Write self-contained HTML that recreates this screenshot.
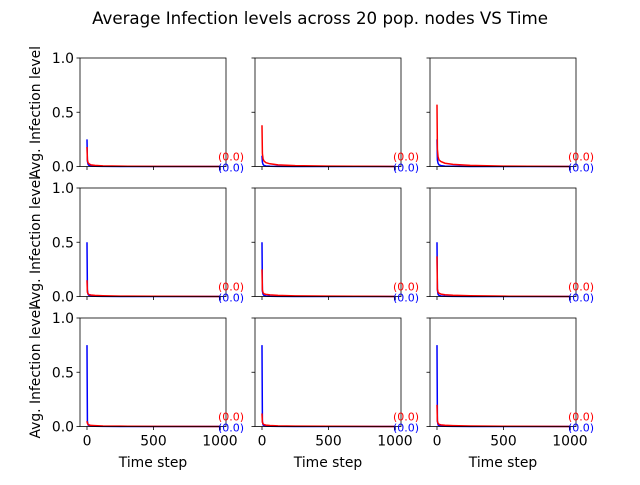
<!DOCTYPE html>
<html><head><meta charset="utf-8"><style>
body{margin:0;background:#fff}
svg{font-family:"DejaVu Sans","Liberation Sans",sans-serif}
</style></head><body>
<svg id="c" width="640" height="480" xmlns="http://www.w3.org/2000/svg">
<text x="320" y="24" font-size="16.67" text-anchor="middle">Average Infection levels across 20 pop. nodes VS Time</text>
</svg>
<script>
const timeSteps=[0,3,8,15,30,60,120,250,500,1000];
const blueSeries=[
 [0.25,0.05,0.02,0.01,0.005,0.002,0.001,0,0,0],
 [0.10,0.04,0.02,0.01,0.005,0.002,0.001,0,0,0],
 [0.25,0.06,0.03,0.015,0.008,0.004,0.002,0,0,0],
 [0.50,0.06,0.02,0.01,0.005,0.002,0.001,0,0,0],
 [0.50,0.05,0.02,0.01,0.005,0.002,0.001,0,0,0],
 [0.50,0.06,0.02,0.01,0.005,0.002,0.001,0,0,0],
 [0.75,0.05,0.015,0.008,0.004,0.002,0.001,0,0,0],
 [0.75,0.05,0.015,0.008,0.004,0.002,0.001,0,0,0],
 [0.75,0.05,0.015,0.008,0.004,0.002,0.001,0,0,0]];
const redSeries=[
 [0.18,0.06,0.035,0.025,0.015,0.01,0.006,0.003,0.001,0],
 [0.38,0.12,0.07,0.05,0.035,0.025,0.015,0.008,0.003,0],
 [0.57,0.16,0.09,0.06,0.045,0.03,0.02,0.01,0.004,0],
 [0.15,0.04,0.025,0.018,0.014,0.01,0.007,0.004,0.002,0],
 [0.25,0.06,0.035,0.025,0.02,0.015,0.01,0.006,0.003,0],
 [0.37,0.07,0.04,0.03,0.022,0.016,0.011,0.007,0.003,0],
 [0.05,0.03,0.02,0.015,0.01,0.008,0.005,0.003,0.001,0],
 [0.12,0.04,0.025,0.018,0.013,0.009,0.006,0.004,0.002,0],
 [0.20,0.05,0.03,0.02,0.015,0.011,0.008,0.005,0.002,0]];
const yTicks=[0,0.5,1.0];
const yTickLabels=["0.0","0.5","1.0"];
const xTicks=[0,500,1000];
const xTickLabels=["0","500","1000"];
const NS="http://www.w3.org/2000/svg";
const svg=document.getElementById('c');
const colL=[80,255,430], rowT=[58,188,318], W=146, H=108.5;
function mk(tag,attrs,parent){const e=document.createElementNS(NS,tag);for(const k in attrs)e.setAttribute(k,attrs[k]);(parent||svg).appendChild(e);return e;}
for(let r=0;r<3;r++)for(let c=0;c<3;c++){
 const i=r*3+c,L=colL[c],T=rowT[r];
 const g=mk('g',{});
 
 
 const sx=v=>L+(v+52.6)/1098*W, sy=v=>T+H-v*H;
 const line=(ser,col)=>mk('polyline',{points:timeSteps.map((t,k)=>sx(t)+','+sy(ser[k])).join(' '),fill:'none',stroke:col,'stroke-width':1.5},g);
 const bl=line(blueSeries[i],'#0000ff');
 
 
 const rl=line(redSeries[i],'#ff0000');
 
 
 mk('line',{x1:sx(1000),x2:sx(1000),y1:sy(0),y2:sy(0)+4,stroke:'#0000ff','stroke-width':1.5},g);
 const fr=mk('rect',{x:L,y:T,width:W,height:H,fill:'none',stroke:'#000','stroke-width':0.8},g);
 
 
 const t1=mk('text',{x:sx(1000)-2,y:sy(0)-6,'font-size':11,fill:'#ff0000'},g);t1.textContent='(0.0)';
 
 
 const t2=mk('text',{x:sx(1000)-2,y:sy(0)+5,'font-size':11,fill:'#0000ff'},g);t2.textContent='(0.0)';
 
 
 yTicks.forEach((v,k)=>{mk('line',{x1:L-3.5,x2:L,y1:sy(v),y2:sy(v),stroke:'#000','stroke-width':0.8},g);
  if(c===0){const t=mk('text',{x:L-6,y:sy(v)+5,'font-size':13.9,'text-anchor':'end'},g);t.textContent=yTickLabels[k];
   
   }});
 xTicks.forEach((v,k)=>{mk('line',{x1:sx(v),x2:sx(v),y1:T+H,y2:T+H+3.5,stroke:'#000','stroke-width':0.8},g);
  if(r===2){const t=mk('text',{x:sx(v),y:T+H+19,'font-size':13.9,'text-anchor':'middle'},g);t.textContent=xTickLabels[k];
   
   }});
 if(r===2){const t=mk('text',{x:L+W/2,y:467,'font-size':13.9,'text-anchor':'middle'},g);t.textContent='Time step';
  
  }
 if(c===0){const t=mk('text',{x:0,y:0,'font-size':13.9,'text-anchor':'middle',transform:'translate(40,'+(T+H/2)+') rotate(-90)'},g);t.textContent='Avg. Infection level';
  
  }
}
</script>
</body></html>
